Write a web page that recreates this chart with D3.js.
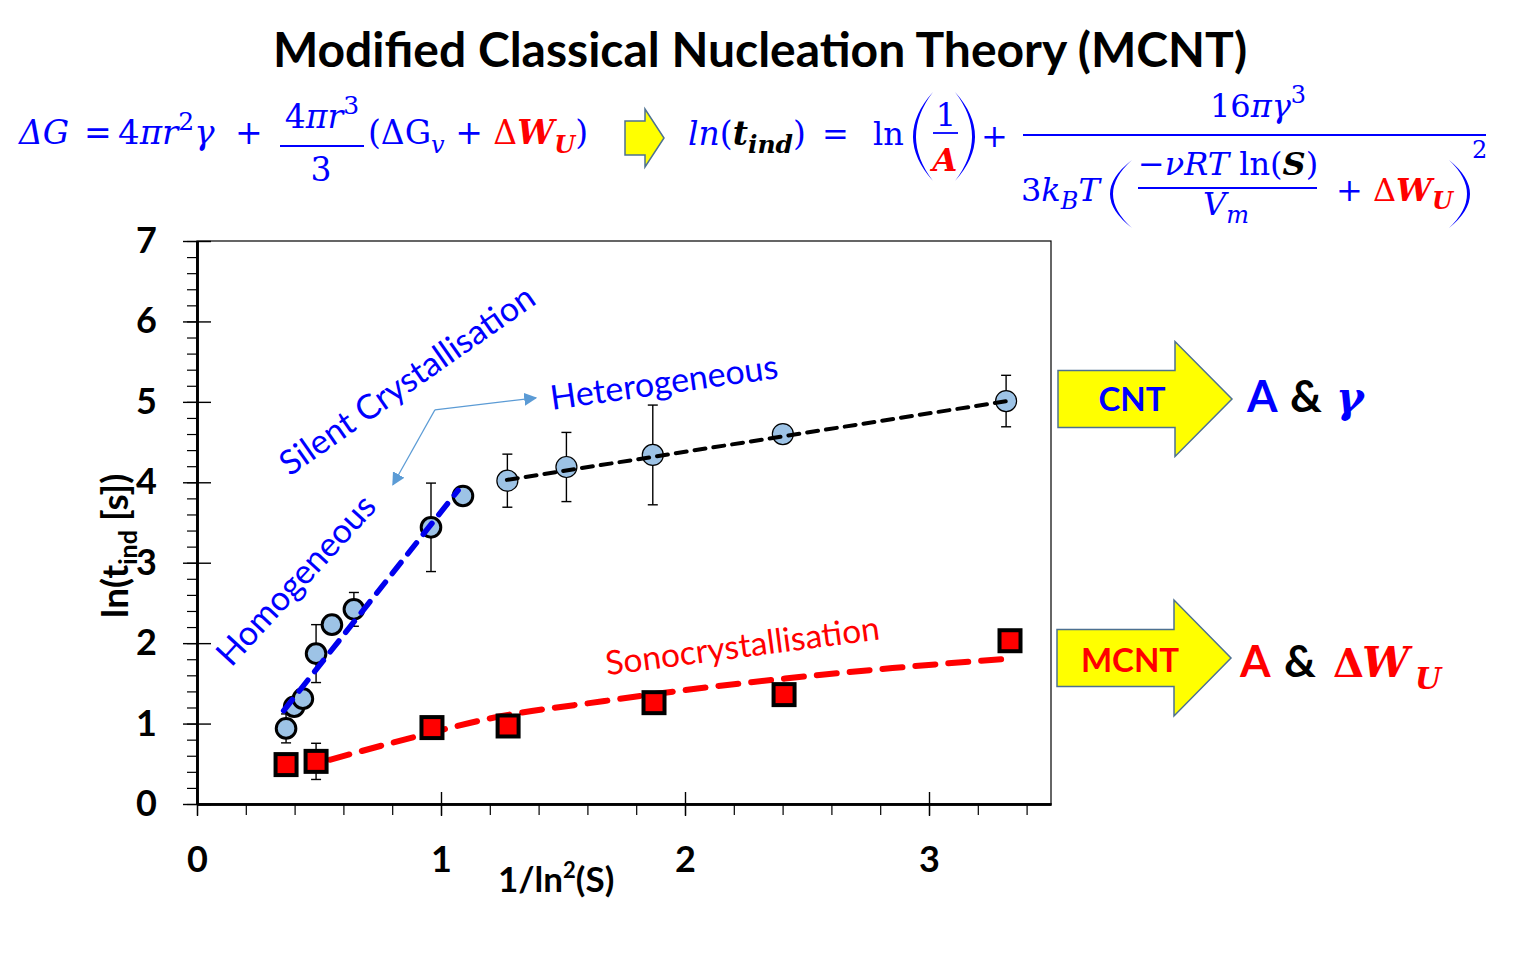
<!DOCTYPE html>
<html>
<head>
<meta charset="utf-8">
<script src="https://cdn.jsdelivr.net/npm/d3@7"></script>
<style>
    body { margin: 0; background: #fff; }
    svg { display: block; }
</style>
</head>
<body>
<svg id="chart"></svg>
<script>
// values
var homoX = [0.365, 0.398, 0.434, 0.488, 0.553, 0.643, 0.959, 1.090],
    homoY = [0.94, 1.21, 1.31, 1.87, 2.23, 2.42, 3.44, 3.83],
    homoErr = [0.18, 0, 0, 0.36, 0, 0.21, 0.55, 0];
var heteroX = [1.272, 1.514, 1.868, 2.401, 3.316],
    heteroY = [4.02, 4.19, 4.34, 4.60, 5.01],
    heteroErr = [0.33, 0.43, 0.62, 0, 0.32];
var sonoX = [0.365, 0.488, 0.963, 1.275, 1.873, 2.406, 3.332],
    sonoY = [0.49, 0.53, 0.95, 0.97, 1.26, 1.36, 2.03],
    sonoErr = [0, 0.225, 0, 0, 0, 0, 0];
var homoFitX = [0.355, 1.07],
    homoFitY = [1.16, 3.90];
var heteroFitX = [1.27, 3.32],
    heteroFitY = [4.03, 5.01];
var sonoFitX = [0.545, 0.90, 1.21, 1.67, 2.01, 2.41, 2.85, 3.34],
    sonoFitY = [0.55, 0.84, 1.07, 1.28, 1.42, 1.56, 1.69, 1.81];
var xTickValues = [0, 1, 2, 3],
    yTickValues = [0, 1, 2, 3, 4, 5, 6, 7];

var width = 1520,
    height = 956,
    blue = "#0000ff",
    red = "#ff0000",
    sans = "Lato, 'Open Sans', sans-serif",
    serif = "'DejaVu Serif', 'Liberation Serif', serif";

var svg = d3.select("#chart").attr("width", width).attr("height", height);

var x = d3.scaleLinear().domain([0, 3.5]).range([197, 1051]),
    y = d3.scaleLinear().domain([0, 7]).range([804, 241]);

function drawAxes() {
    svg.append("rect")
        .attr("x", x(0)).attr("y", y(7))
        .attr("width", x(3.5) - x(0)).attr("height", y(0) - y(7))
        .attr("fill", "none").attr("stroke", "#000").attr("stroke-width", 1.2);

    var yMinor = svg.append("g").attr("transform", "translate(" + x(0) + ",0)")
        .call(d3.axisLeft(y).tickValues(d3.range(0, 7.01, 0.2)).tickSize(10).tickSizeOuter(0).tickFormat(""));
    var xMinor = svg.append("g").attr("transform", "translate(0," + y(0) + ")")
        .call(d3.axisBottom(x).tickValues(d3.range(0, 3.45, 0.2)).tickSize(11).tickSizeOuter(0).tickFormat(""));
    yMinor.selectAll(".tick line").attr("stroke-width", 1.2);
    xMinor.selectAll(".tick line").attr("stroke-width", 1.2);

    var yAxis = svg.append("g").attr("transform", "translate(" + x(0) + ",0)")
        .call(d3.axisLeft(y).tickValues(yTickValues).tickSize(14).tickSizeOuter(0).tickPadding(26).tickFormat(d3.format("d")));
    var xAxis = svg.append("g").attr("transform", "translate(0," + y(0) + ")")
        .call(d3.axisBottom(x).tickValues(xTickValues).tickSize(12).tickSizeOuter(0).tickPadding(30).tickFormat(d3.format("d")));
    yAxis.selectAll(".tick line").attr("x1", 14).attr("stroke-width", 1.4);
    xAxis.selectAll(".tick line").attr("y1", -12).attr("stroke-width", 1.4);

    [yAxis, xAxis, yMinor, xMinor].forEach(function (g) {
        g.select(".domain").attr("stroke-width", 2.6);
    });
    [yAxis, xAxis].forEach(function (g) {
        g.selectAll("text").attr("font-family", sans).attr("font-weight", "bold")
            .attr("font-size", 36).attr("fill", "#000");
    });

    svg.append("text")
        .attr("transform", "translate(128,618) rotate(-90)")
        .attr("font-family", sans).attr("font-weight", "bold").attr("font-size", 37)
        .call(function (t) {
            t.append("tspan").text("ln(t");
            t.append("tspan").attr("font-size", 25).attr("dy", 9).text("ind");
            t.append("tspan").attr("dy", -9).text(" [s])");
        });

    svg.append("text")
        .attr("x", 498).attr("y", 892)
        .attr("font-family", sans).attr("font-weight", "bold").attr("font-size", 35)
        .call(function (t) {
            t.append("tspan").text("1/ln");
            t.append("tspan").attr("font-size", 22).attr("dy", -14).text("2");
            t.append("tspan").attr("dy", 14).text("(S)");
        });
}

function drawErrorBars(xs, ys, es) {
    var pts = d3.zip(xs, ys, es).filter(function (d) { return d[2] > 0; }),
        g = svg.append("g").attr("stroke", "#000").attr("stroke-width", 1.4);
    g.selectAll(".bar").data(pts).enter().append("line")
        .attr("x1", function (d) { return x(d[0]); }).attr("x2", function (d) { return x(d[0]); })
        .attr("y1", function (d) { return y(d[1] - d[2]); }).attr("y2", function (d) { return y(d[1] + d[2]); });
    [-1, 1].forEach(function (s) {
        g.selectAll(".cap" + s).data(pts).enter().append("line")
            .attr("x1", function (d) { return x(d[0]) - 5; }).attr("x2", function (d) { return x(d[0]) + 5; })
            .attr("y1", function (d) { return y(d[1] + s * d[2]); }).attr("y2", function (d) { return y(d[1] + s * d[2]); });
    });
}

function drawFit(xs, ys, color, w, dash, curve) {
    var line = d3.line().x(function (d) { return x(d[0]); }).y(function (d) { return y(d[1]); }).curve(curve || d3.curveLinear);
    svg.append("path").datum(d3.zip(xs, ys))
        .attr("d", line).attr("fill", "none")
        .attr("stroke", color).attr("stroke-width", w)
        .attr("stroke-dasharray", dash).attr("stroke-linecap", "round");
}

function drawCircles(xs, ys, r, sw) {
    svg.append("g").selectAll("circle").data(d3.zip(xs, ys)).enter().append("circle")
        .attr("cx", function (d) { return x(d[0]); }).attr("cy", function (d) { return y(d[1]); })
        .attr("r", r).attr("fill", "#9dc3e6").attr("stroke", "#000").attr("stroke-width", sw);
}

function drawSquares(xs, ys) {
    var s = 21;
    svg.append("g").selectAll("rect").data(d3.zip(xs, ys)).enter().append("rect")
        .attr("x", function (d) { return x(d[0]) - s / 2; }).attr("y", function (d) { return y(d[1]) - s / 2; })
        .attr("width", s).attr("height", s)
        .attr("fill", red).attr("stroke", "#000").attr("stroke-width", 4);
}

function drawLabels() {
    function label(txt, px, py, angle, color, size) {
        svg.append("text")
            .attr("transform", "translate(" + px + "," + py + ") rotate(" + angle + ")")
            .attr("font-family", sans).attr("font-size", size).attr("fill", color).text(txt);
    }
    label("Silent Crystallisation", x(0.38), y(4.07), -35, blue, 34);
    label("Homogeneous", x(0.14), y(1.69), -47.5, blue, 34);
    label("Heterogeneous", x(1.455), y(4.90), -8, blue, 34);
    label("Sonocrystallisation", x(1.68), y(1.60), -7.5, red, 33.5);

    svg.append("defs").append("marker")
        .attr("id", "head").attr("viewBox", "0 0 10 10").attr("refX", 9).attr("refY", 5)
        .attr("markerWidth", 13).attr("markerHeight", 13).attr("markerUnits", "userSpaceOnUse")
        .attr("orient", "auto")
        .append("path").attr("d", "M0,0 L10,5 L0,10 Z").attr("fill", "#5b9bd5");
    [[0.803, 3.97], [1.389, 5.05]].forEach(function (p) {
        svg.append("line")
            .attr("x1", x(0.975)).attr("y1", y(4.90))
            .attr("x2", x(p[0])).attr("y2", y(p[1]))
            .attr("stroke", "#5b9bd5").attr("stroke-width", 1.2)
            .attr("marker-end", "url(#head)");
    });
}

function blockArrow(x0, xh, xt, ym, bh, hh, sw) {
    var pts = [[x0, ym - bh], [xh, ym - bh], [xh, ym - hh], [xt, ym], [xh, ym + hh], [xh, ym + bh], [x0, ym + bh]];
    svg.append("path").attr("d", d3.line()(pts) + "Z")
        .attr("fill", "#ffff00").attr("stroke", "#4d7191").attr("stroke-width", sw);
}

function paren(xl, xr, yTop, yBot, left) {
    var ym = (yTop + yBot) / 2, th = 3, c1, c2, xe;
    if (left) {
        xe = xr; c1 = 2 * xl - xr; c2 = 2 * (xl + th) - xr;
    } else {
        xe = xl; c1 = 2 * xr - xl; c2 = 2 * (xr - th) - xl;
    }
    svg.append("path")
        .attr("d", "M" + xe + "," + yTop + " Q" + c1 + "," + ym + " " + xe + "," + yBot +
            " Q" + c2 + "," + ym + " " + xe + "," + yTop + "Z")
        .attr("fill", blue);
}

function mathText(px, py, anchor, runs, size) {
    var t = svg.append("text").attr("x", px).attr("y", py).attr("text-anchor", anchor || "start")
        .attr("font-family", serif).attr("font-size", size || 32).attr("fill", blue);
    runs.forEach(function (r) {
        var s = t.append("tspan").text(r.t);
        if (r.i) s.attr("font-style", "italic");
        if (r.b) s.attr("font-weight", "bold");
        if (r.c) s.attr("fill", r.c);
        if (r.s) s.attr("font-size", r.s);
        if (r.dy) s.attr("dy", r.dy);
    });
    return t;
}

function bar(x1, x2, yy) {
    svg.append("line").attr("x1", x1).attr("x2", x2).attr("y1", yy).attr("y2", yy)
        .attr("stroke", blue).attr("stroke-width", 1.8);
}

function drawHeader() {
    svg.append("text").attr("x", 760).attr("y", 67).attr("text-anchor", "middle")
        .attr("font-family", sans).attr("font-weight", "bold").attr("font-size", 48)
        .text("Modified Classical Nucleation Theory (MCNT)");

    // left equation
    mathText(19, 144, "start", [{t: "ΔG", i: 1}], 33);
    mathText(84, 144, "start", [{t: "="}], 33);
    mathText(118, 144, "start", [{t: "4"}, {t: "πr", i: 1}, {t: "2", s: 25, dy: -14}, {t: "γ", i: 1, dy: 14}], 34);
    mathText(235, 144, "start", [{t: "+"}], 33);
    mathText(322, 128, "middle", [{t: "4"}, {t: "πr", i: 1}, {t: "3", s: 25, dy: -14}], 33);
    bar(280, 364, 146);
    mathText(321, 181, "middle", [{t: "3"}], 33);
    mathText(368, 144, "start", [{t: "(ΔG"}, {t: "v", i: 1, s: 24, dy: 9}, {t: " + ", dy: -9},
        {t: "Δ", c: red}, {t: "W", i: 1, b: 1, c: red}, {t: "U", i: 1, b: 1, c: red, s: 24, dy: 9}, {t: ")", dy: -9}], 33);

    blockArrow(625, 645, 664, 138, 17, 29, 1.5);

    // right equation
    mathText(688, 145, "start", [{t: "ln", i: 1}, {t: "("}, {t: "t", i: 1, b: 1, c: "#000"},
        {t: "ind", i: 1, b: 1, c: "#000", s: 25, dy: 8}, {t: ")", dy: -8}], 33);
    mathText(822, 145, "start", [{t: "="}]);
    mathText(873, 145, "start", [{t: "ln"}]);
    paren(913, 933, 92, 181, true);
    paren(955, 975, 92, 181, false);
    mathText(946, 126, "middle", [{t: "1"}]);
    bar(933, 958, 133);
    mathText(945, 171, "middle", [{t: "A", i: 1, b: 1, c: red}]);
    mathText(981, 147, "start", [{t: "+"}]);
    bar(1023, 1486, 135);
    mathText(1258, 117, "middle", [{t: "16"}, {t: "πγ", i: 1}, {t: "3", s: 24, dy: -14}]);
    mathText(1021, 201, "start", [{t: "3"}, {t: "k", i: 1}, {t: "B", i: 1, s: 24, dy: 8}, {t: "T", i: 1, dy: -8}]);
    paren(1110, 1132, 160, 228, true);
    paren(1449, 1470, 160, 228, false);
    mathText(1228, 175, "middle", [{t: "−νRT", i: 1}, {t: " ln("}, {t: "S", i: 1, b: 1, c: "#000"}, {t: ")"}]);
    bar(1138, 1317, 188);
    mathText(1226, 215, "middle", [{t: "V", i: 1}, {t: "m", i: 1, s: 24, dy: 8}]);
    mathText(1336, 201, "start", [{t: "+ "}, {t: "Δ", c: red}, {t: "W", i: 1, b: 1, c: red},
        {t: "U", i: 1, b: 1, c: red, s: 24, dy: 8}]);
    mathText(1472, 158, "start", [{t: "2", s: 24}]);
}

function drawSide() {
    blockArrow(1058, 1175, 1232, 399, 28.5, 57.5, 1.5);
    blockArrow(1057, 1174, 1231, 658, 28.5, 58, 1.5);

    svg.append("text").attr("x", 1132).attr("y", 411).attr("text-anchor", "middle")
        .attr("font-family", sans).attr("font-weight", "bold").attr("font-size", 33).attr("fill", blue).text("CNT");
    svg.append("text").attr("x", 1130).attr("y", 672).attr("text-anchor", "middle")
        .attr("font-family", sans).attr("font-weight", "bold").attr("font-size", 33).attr("fill", red).text("MCNT");

    function word(txt, px, py, color, family, size, italic) {
        svg.append("text").attr("x", px).attr("y", py)
            .attr("font-family", family).attr("font-weight", "bold").attr("font-size", size)
            .attr("font-style", italic ? "italic" : "normal").attr("fill", color).text(txt);
    }
    word("A", 1247, 412, blue, sans, 44);
    word("&", 1290, 412, "#000", sans, 44);
    word("γ", 1336, 412, blue, serif, 42, true);
    word("A", 1240, 677, red, sans, 44);
    word("&", 1284, 677, "#000", sans, 44);
    word("Δ", 1333, 677, red, serif, 40);
    word("W", 1362, 677, red, serif, 42, true);
    word("U", 1415, 689, red, serif, 30, true);
}

drawAxes();
drawErrorBars(homoX, homoY, homoErr);
drawErrorBars(heteroX, heteroY, heteroErr);
drawErrorBars(sonoX, sonoY, sonoErr);
drawFit(sonoFitX, sonoFitY, red, 6, "20 13", d3.curveMonotoneX);
drawSquares(sonoX, sonoY);
drawCircles(homoX, homoY, 9.8, 3);
drawCircles(heteroX, heteroY, 10.5, 1.2);
drawFit(homoFitX, homoFitY, "#0000ee", 5.5, "14 11");
drawFit(heteroFitX, heteroFitY, "#000", 4, "11 8");
drawLabels();
drawHeader();
drawSide();
</script>
</body>
</html>
